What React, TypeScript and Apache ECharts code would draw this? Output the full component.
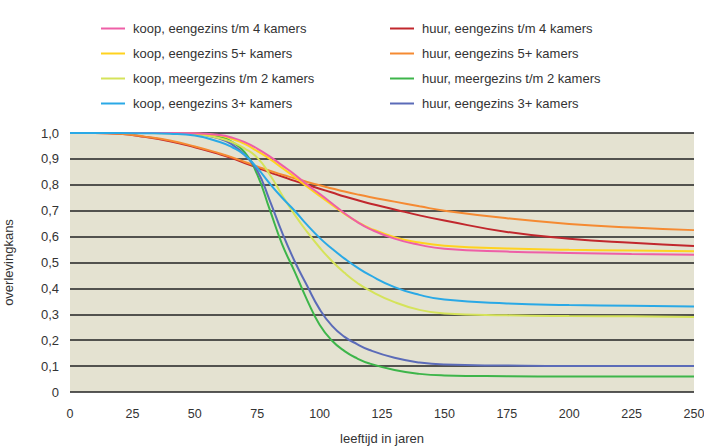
import React, { useEffect, useRef } from "react";
import * as echarts from "echarts";

const ages = [0, 10, 20, 30, 40, 50, 60, 65, 70, 75, 80, 85, 90, 95, 100, 105, 110, 115, 120, 130, 140, 150, 175, 200, 225, 250];

const koopEengezinsT4 = [1, 1, 1, 1, 1, 0.999, 0.992, 0.982, 0.965, 0.94, 0.91, 0.875, 0.84, 0.8, 0.765, 0.728, 0.69, 0.657, 0.63, 0.592, 0.568, 0.553, 0.542, 0.537, 0.533, 0.53];
const koopEengezins5 = [1, 1, 1, 1, 1, 0.998, 0.99, 0.977, 0.958, 0.93, 0.9, 0.865, 0.83, 0.793, 0.757, 0.722, 0.688, 0.658, 0.633, 0.598, 0.577, 0.565, 0.554, 0.549, 0.546, 0.543];
const koopMeergezinsT2 = [1, 1, 1, 1, 0.999, 0.996, 0.98, 0.965, 0.94, 0.905, 0.84, 0.76, 0.685, 0.618, 0.558, 0.505, 0.46, 0.422, 0.392, 0.347, 0.317, 0.303, 0.296, 0.293, 0.292, 0.29];
const koopEengezins3 = [1, 1, 1, 0.999, 0.997, 0.99, 0.965, 0.945, 0.915, 0.865, 0.805, 0.75, 0.7, 0.645, 0.595, 0.553, 0.515, 0.481, 0.452, 0.405, 0.375, 0.357, 0.342, 0.336, 0.333, 0.33];

const huurEengezinsT4 = [1, 1, 0.997, 0.985, 0.968, 0.945, 0.918, 0.902, 0.884, 0.866, 0.848, 0.832, 0.815, 0.8, 0.785, 0.77, 0.755, 0.741, 0.728, 0.705, 0.682, 0.662, 0.618, 0.592, 0.576, 0.564];
const huurEengezins5 = [1, 1, 0.997, 0.986, 0.971, 0.948, 0.921, 0.906, 0.888, 0.871, 0.854, 0.839, 0.825, 0.811, 0.798, 0.786, 0.774, 0.763, 0.753, 0.735, 0.717, 0.7, 0.671, 0.649, 0.635, 0.625];
const huurMeergezinsT2 = [1, 1, 1, 1, 1, 0.998, 0.985, 0.965, 0.925, 0.84, 0.705, 0.57, 0.465, 0.355, 0.26, 0.198, 0.158, 0.13, 0.11, 0.085, 0.07, 0.064, 0.061, 0.06, 0.06, 0.06];
const huurEengezins3 = [1, 1, 1, 1, 1, 0.996, 0.978, 0.955, 0.915, 0.855, 0.74, 0.615, 0.505, 0.41, 0.32, 0.255, 0.213, 0.185, 0.162, 0.132, 0.114, 0.106, 0.102, 0.1, 0.1, 0.1];

const seriesNames = [
  "koop, eengezins t/m 4 kamers",
  "koop, eengezins 5+ kamers",
  "koop, meergezins t/m 2 kamers",
  "koop, eengezins 3+ kamers",
  "huur, eengezins t/m 4 kamers",
  "huur, eengezins 5+ kamers",
  "huur, meergezins t/m 2 kamers",
  "huur, eengezins 3+ kamers",
];

const xTicks = [0, 25, 50, 75, 100, 125, 150, 175, 200, 225, 250];

export default function App() {
  const ref = useRef<HTMLDivElement>(null);
  useEffect(() => {
    document.body.style.margin = "0";
    const chart = echarts.init(ref.current!, undefined, { renderer: "svg" });
    const font = "'Liberation Sans', Arial, sans-serif";
    const mk = (name: string, vals: number[], color: string) => ({
      name,
      type: "line",
      data: ages.map((a, i) => [a, vals[i]]),
      smooth: 0.5,
      symbol: "none",
      lineStyle: { color, width: 2 },
      itemStyle: { color },
    });
    const seriesList = [
      mk(seriesNames[4], huurEengezinsT4, "#c1272d"),
      mk(seriesNames[5], huurEengezins5, "#f58a32"),
      mk(seriesNames[6], huurMeergezinsT2, "#3db54a"),
      mk(seriesNames[7], huurEengezins3, "#5b6bb8"),
      mk(seriesNames[2], koopMeergezinsT2, "#d5e35a"),
      mk(seriesNames[1], koopEengezins5, "#ffd21f"),
      mk(seriesNames[0], koopEengezinsT4, "#ee5fa7"),
      mk(seriesNames[3], koopEengezins3, "#2aa9e6"),
    ];
    const legendBase = {
      orient: "vertical",
      top: 16,
      icon: "rect",
      itemWidth: 24,
      itemHeight: 2,
      itemGap: 10,
      textStyle: { fontSize: 13, color: "#333", fontFamily: font, padding: [0, 0, 0, 3], lineHeight: 15 },
    };
    chart.setOption({
      animation: false,
      backgroundColor: "#ffffff",
      legend: [
        { ...legendBase, left: 96, data: seriesNames.slice(0, 4) },
        { ...legendBase, left: 385, data: seriesNames.slice(4, 8) },
      ],
      grid: {
        left: 70,
        right: 10,
        top: 133,
        bottom: 55,
        show: true,
        backgroundColor: "#e4e2d1",
        borderWidth: 0,
        containLabel: false,
        outerBoundsMode: "none",
      },
      xAxis: {
        type: "value",
        min: 0,
        max: 250,
        interval: 25,
        name: "leeftijd in jaren",
        nameLocation: "middle",
        nameGap: 40,
        nameTextStyle: { fontSize: 13, color: "#333", fontFamily: font },
        axisLine: { show: false },
        axisTick: { show: false },
        splitLine: { show: false },
        axisLabel: {
          fontSize: 12.5,
          color: "#333",
          fontFamily: font,
          margin: 15,
          formatter: (v: number) => (xTicks.includes(v) ? String(v) : ""),
        },
      },
      yAxis: {
        type: "value",
        min: 0,
        max: 1,
        interval: 0.1,
        name: "overlevingkans",
        nameLocation: "middle",
        nameGap: 55,
        nameTextStyle: { fontSize: 13, color: "#333", fontFamily: font },
        axisLine: { show: false },
        axisTick: { show: false },
        splitLine: { show: true, lineStyle: { color: "#222", width: 1.6 } },
        axisLabel: {
          fontSize: 13,
          color: "#333",
          fontFamily: font,
          margin: 11,
          formatter: (v: number) => (v === 0 ? "0" : v.toFixed(1).replace(".", ",")),
        },
      },
      series: seriesList,
    });
    return () => chart.dispose();
  }, []);
  return <div ref={ref} style={{ width: 704, height: 447 }} />;
}
